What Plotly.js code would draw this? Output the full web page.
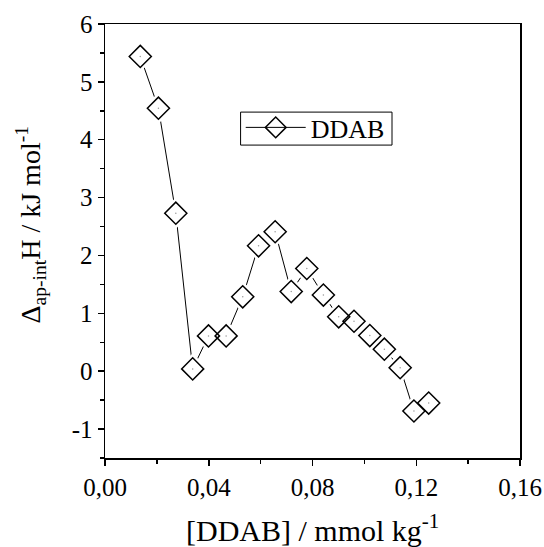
<!DOCTYPE html>
<html>
<head>
<meta charset="utf-8">
<script src="https://cdn.plot.ly/plotly-3.0.1.min.js"></script>
<style>html,body{margin:0;padding:0;background:#fff;}#chart{width:544px;height:547px;}</style>
</head>
<body>
<div id="chart"></div>
<script>
// Data
const seriesName = 'DDAB';
const concentration = [0.0136, 0.0206, 0.0273, 0.0338, 0.0399, 0.0467, 0.0531, 0.0592, 0.0656, 0.0718,
                       0.0778, 0.0842, 0.0901, 0.0960, 0.1021, 0.1077, 0.1138, 0.1191, 0.1248];
const enthalpy = [5.44, 4.545, 2.73, 0.04, 0.61, 0.61, 1.286, 2.167, 2.41, 1.376,
                  1.775, 1.316, 0.94, 0.863, 0.616, 0.38, 0.06, -0.688, -0.55];
const xTickVals = [0, 0.04, 0.08, 0.12, 0.16];
const xTickText = ['0,00', '0,04', '0,08', '0,12', '0,16'];
const yTickVals = [-1, 0, 1, 2, 3, 4, 5, 6];
const yTickText = ['-1', '0', '1', '2', '3', '4', '5', '6'];
const xTitle = '[DDAB] / mmol kg<sup>-1</sup>';
const yTitle = 'Δ<sub>ap-int</sub>H / kJ mol<sup>-1</sup>';

const serif = '"Liberation Serif", "Times New Roman", serif';

const traces = [
  { // line + legend entry
    x: concentration, y: enthalpy, name: seriesName, type: 'scatter', mode: 'lines+markers',
    line: {color: '#000', width: 1},
    marker: {symbol: 'diamond-open', size: 17, color: '#000', line: {width: 1.5, color: '#000'}},
    showlegend: true
  },
  { // white halo to create gaps between line and symbols
    x: concentration, y: enthalpy, type: 'scatter', mode: 'markers', hoverinfo: 'skip',
    marker: {symbol: 'diamond', size: 24, color: '#fff', line: {width: 0}},
    showlegend: false
  },
  { // open diamonds
    x: concentration, y: enthalpy, type: 'scatter', mode: 'markers',
    marker: {symbol: 'diamond-open', size: 17, color: '#000', line: {width: 1.5, color: '#000'}},
    showlegend: false
  },
  { // centre dots
    x: concentration, y: enthalpy, type: 'scatter', mode: 'markers', hoverinfo: 'skip',
    marker: {symbol: 'circle', size: 1.5, color: '#999'},
    showlegend: false
  }
];

const layout = {
  width: 544, height: 547,
  margin: {l: 105, r: 24, t: 24, b: 89},
  paper_bgcolor: '#fff', plot_bgcolor: '#fff',
  font: {family: serif, color: '#000', size: 25},
  showlegend: true,
  legend: {
    x: 0.327, y: 0.8157, xanchor: 'left', yanchor: 'top',
    bgcolor: 'rgba(0,0,0,0)', borderwidth: 0,
    font: {family: serif, size: 26, color: '#000'},
    itemwidth: 60, tracegroupgap: 0
  },
  shapes: [
    {type: 'rect', xref: 'paper', yref: 'paper', x0: 0.3267, x1: 0.6916, y0: 0.721, y1: 0.797,
     line: {color: '#000', width: 1}, fillcolor: 'rgba(0,0,0,0)', layer: 'above'}
  ],
  annotations: [
    {text: xTitle, xref: 'paper', yref: 'paper', x: 0.5, y: -0.162, xanchor: 'center', yanchor: 'middle',
     showarrow: false, font: {family: serif, size: 30, color: '#000'}},
    {text: yTitle, xref: 'paper', yref: 'paper', x: -0.1783, y: 0.538, xanchor: 'center', yanchor: 'middle',
     textangle: -90, showarrow: false, font: {family: serif, size: 28, color: '#000'}}
  ],
  xaxis: {
    range: [0, 0.16], showgrid: false, zeroline: false,
    showline: true, linecolor: '#000', linewidth: 1.5, mirror: true,
    ticks: 'outside', ticklen: 6, tickwidth: 1.5, tickcolor: '#000',
    tickmode: 'array', tickvals: xTickVals, ticktext: xTickText,
    tickfont: {family: serif, size: 25, color: '#000'},
    minor: {dtick: 0.02, tick0: 0, ticks: 'outside', ticklen: 4, tickwidth: 1.5, tickcolor: '#000', showgrid: false}
  },
  yaxis: {
    range: [-1.5, 6], showgrid: false, zeroline: false,
    showline: true, linecolor: '#000', linewidth: 1.5, mirror: true,
    ticks: 'outside', ticklen: 6, tickwidth: 1.5, tickcolor: '#000',
    tickmode: 'array', tickvals: yTickVals, ticktext: yTickText,
    tickfont: {family: serif, size: 25, color: '#000'},
    minor: {dtick: 0.5, tick0: 0, ticks: 'outside', ticklen: 4, tickwidth: 1.5, tickcolor: '#000', showgrid: false}
  }
};

Plotly.newPlot('chart', traces, layout, {displayModeBar: false, staticPlot: true});
</script>
</body>
</html>
